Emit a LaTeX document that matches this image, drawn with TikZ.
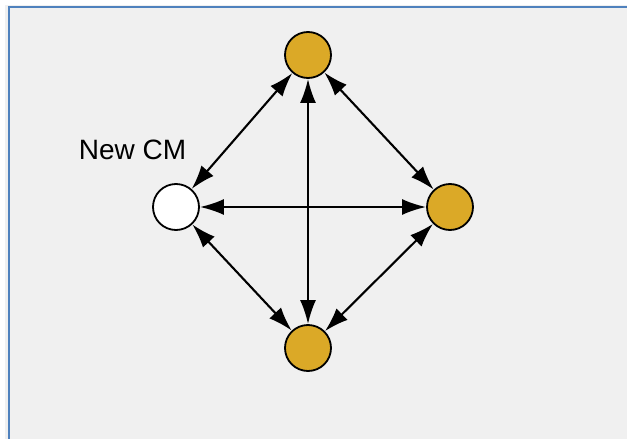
\documentclass[tikz,border=0pt]{standalone}
\usepackage{fontspec}
\setmainfont{Liberation Sans}
\usetikzlibrary{arrows.meta}
\definecolor{panelbg}{HTML}{F0F0F0}
\definecolor{panelline}{HTML}{4F81BD}
\definecolor{cmfill}{HTML}{DBA927}
\definecolor{newfill}{HTML}{FFFFFF}
\tikzset{
  cmnode/.style={
    circle,
    draw=black,
    line width=1.8pt,
    fill=cmfill,
    minimum size=46pt,
    inner sep=0pt
  },
  newcmnode/.style={
    cmnode,
    fill=newfill
  },
  link/.style={
    {Latex[length=24pt,width=16pt]}-{Latex[length=24pt,width=16pt]},
    line width=2.1pt,
    draw=black
  }
}

\begin{document}
\begin{tikzpicture}[x=1pt,y=-1pt]

\useasboundingbox (0,0) rectangle (627,439);
\fill[white] (0,0) rectangle (627,439);
\fill[black!6] (5,5) rectangle (640,450);
\fill[panelbg] (9,7) rectangle (640,450);
\draw[panelline, line width=2pt] (9,450) -- (9,7) -- (640,7);

\node[cmnode] (top) at (308,55) {};
\node[newcmnode] (new) at (176,207) {};
\node[cmnode] (right) at (450,207) {};
\node[cmnode] (bottom) at (308,348) {};

\node[font=\fontsize{28}{32}\selectfont] (label) at (132.5,150) {New CM};

\draw[link] (new) -- (top);
\draw[link] (new) -- (right);
\draw[link] (new) -- (bottom);
\draw[link] (top) -- (right);
\draw[link] (top) -- (bottom);
\draw[link] (bottom) -- (right);

\end{tikzpicture}
\end{document}
